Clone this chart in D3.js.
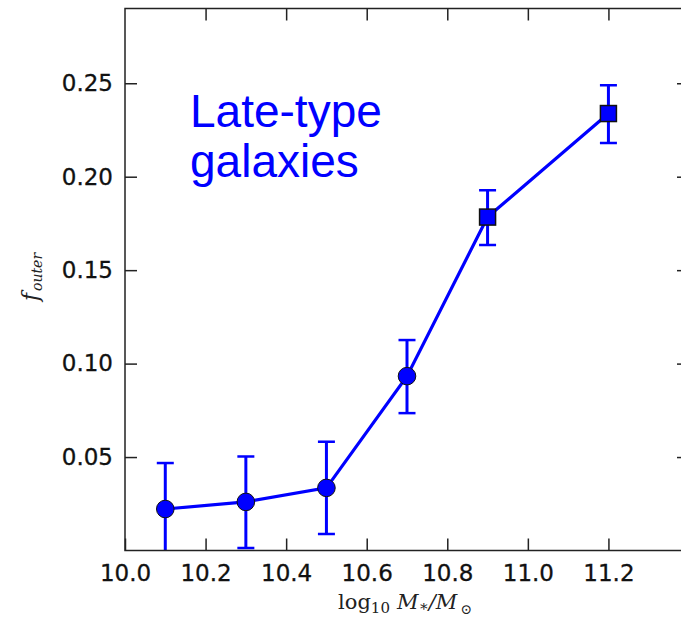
<html>
<head>
<script src="https://d3js.org/d3.v7.min.js"></script>
<style>
  body { margin: 0; background: #fff; }
  .tick text { font-family: "DejaVu Sans", sans-serif; font-size: 23px; fill: #111; stroke: #111; stroke-width: 0.3px; }
</style>
</head>
<body>
<div id="container"></div>
<script>
// data
var mass = [10.1, 10.3, 10.5, 10.7, 10.9, 11.2];
var fOuter = [0.0222, 0.0260, 0.0335, 0.0933, 0.1784, 0.2338];
var errTop = [0.0468, 0.0503, 0.0582, 0.1126, 0.1928, 0.2489];
var errBottom = [-0.0030, 0.0013, 0.0088, 0.0735, 0.1634, 0.2181];
var markerShape = ["circle", "circle", "circle", "circle", "square", "square"];
var xTicks = [10.0, 10.2, 10.4, 10.6, 10.8, 11.0, 11.2];
var yTicks = [0.05, 0.10, 0.15, 0.20, 0.25];

function drawChart() {
  var width = 681, height = 620;
  var pLeft = 125, pRight = 689, pTop = 8.5, pBottom = 550.5;

  var svg = d3.select("#container").append("svg")
    .attr("width", width)
    .attr("height", height);

  var x = d3.scaleLinear().domain([10.0, 11.4]).range([pLeft, pRight]);
  var y = d3.scaleLinear().domain([0, 0.29]).range([pBottom, pTop]);

  var data = mass.map(function(m, i) {
    return {m: m, f: fOuter[i], hi: errTop[i], lo: errBottom[i], shape: markerShape[i]};
  });

  svg.append("clipPath").attr("id", "plotclip")
    .append("rect")
    .attr("x", pLeft).attr("y", pTop)
    .attr("width", pRight - pLeft).attr("height", pBottom - pTop);

  var blue = "#0000ff";
  var g = svg.append("g").attr("clip-path", "url(#plotclip)");

  // error bars
  g.selectAll("line.err")
    .data(data).enter().append("line")
    .attr("class", "err")
    .attr("x1", function(d) { return x(d.m); })
    .attr("x2", function(d) { return x(d.m); })
    .attr("y1", function(d) { return y(d.lo); })
    .attr("y2", function(d) { return y(d.hi); })
    .attr("stroke", blue).attr("stroke-width", 3);

  var caps = [];
  data.forEach(function(d) { caps.push({m: d.m, v: d.hi}); caps.push({m: d.m, v: d.lo}); });
  g.selectAll("line.cap")
    .data(caps).enter().append("line")
    .attr("class", "cap")
    .attr("x1", function(d) { return x(d.m) - 8.5; })
    .attr("x2", function(d) { return x(d.m) + 8.5; })
    .attr("y1", function(d) { return y(d.v); })
    .attr("y2", function(d) { return y(d.v); })
    .attr("stroke", blue).attr("stroke-width", 2.5);

  // connecting line
  var line = d3.line()
    .x(function(d) { return x(d.m); })
    .y(function(d) { return y(d.f); });
  g.append("path")
    .datum(data)
    .attr("d", line)
    .attr("fill", "none")
    .attr("stroke", blue)
    .attr("stroke-width", 3.2);

  // markers
  g.selectAll("circle.pt")
    .data(data.filter(function(d) { return d.shape == "circle"; }))
    .enter().append("circle")
    .attr("class", "pt")
    .attr("cx", function(d) { return x(d.m); })
    .attr("cy", function(d) { return y(d.f); })
    .attr("r", 8.8)
    .attr("fill", blue)
    .attr("stroke", "#111")
    .attr("stroke-width", 1);

  g.selectAll("rect.pt")
    .data(data.filter(function(d) { return d.shape == "square"; }))
    .enter().append("rect")
    .attr("class", "pt")
    .attr("x", function(d) { return x(d.m) - 8; })
    .attr("y", function(d) { return y(d.f) - 8; })
    .attr("width", 16).attr("height", 16)
    .attr("fill", blue)
    .attr("stroke", "#111")
    .attr("stroke-width", 1.5);

  // axes with inward ticks
  var tickLen = 12;
  svg.append("g")
    .attr("transform", "translate(0," + pBottom + ")")
    .call(d3.axisBottom(x).tickValues(xTicks).tickFormat(d3.format(".1f"))
      .tickSizeInner(-tickLen).tickSizeOuter(0).tickPadding(14))
    .call(function(a) { a.select(".domain").remove(); });

  svg.append("g")
    .attr("transform", "translate(0," + pTop + ")")
    .call(d3.axisTop(x).tickValues(xTicks.slice(1)).tickFormat("")
      .tickSizeInner(-tickLen).tickSizeOuter(0))
    .call(function(a) { a.select(".domain").remove(); });

  svg.append("g")
    .attr("transform", "translate(" + pLeft + ",0)")
    .call(d3.axisLeft(y).tickValues(yTicks).tickFormat(d3.format(".2f"))
      .tickSizeInner(-tickLen).tickSizeOuter(0).tickPadding(12))
    .call(function(a) { a.select(".domain").remove(); });

  svg.append("g")
    .attr("transform", "translate(" + pRight + ",0)")
    .call(d3.axisRight(y).tickValues(yTicks).tickFormat("")
      .tickSizeInner(-tickLen).tickSizeOuter(0))
    .call(function(a) { a.select(".domain").remove(); });

  svg.selectAll(".tick line").attr("stroke", "#222").attr("stroke-width", 1.5);

  // frame
  svg.append("rect")
    .attr("x", pLeft).attr("y", pTop)
    .attr("width", pRight - pLeft).attr("height", pBottom - pTop)
    .attr("fill", "none")
    .attr("stroke", "#222")
    .attr("stroke-width", 1.5);

  // annotation
  var note = svg.append("text")
    .attr("font-family", "'Liberation Sans', Arial, sans-serif")
    .attr("font-size", 46)
    .attr("fill", blue);
  note.append("tspan").attr("x", 190).attr("y", 127).text("Late-type");
  note.append("tspan").attr("x", 190).attr("y", 177).text("galaxies");

  // axis labels
  var xl = svg.append("text")
    .attr("x", 405).attr("y", 609)
    .attr("text-anchor", "middle")
    .attr("font-family", "'DejaVu Serif', serif")
    .attr("font-size", 21)
    .attr("fill", "#222");
  xl.append("tspan").text("log");
  xl.append("tspan").attr("font-size", 15).attr("dy", 4).text("10");
  xl.append("tspan").attr("dy", -4).attr("dx", 7).attr("font-style", "italic").text("M");
  xl.append("tspan").attr("font-size", 15).attr("dy", 2).text("\u2217");
  xl.append("tspan").attr("dy", -2).attr("font-style", "italic").text("/M");
  xl.append("tspan").attr("font-size", 14).attr("dy", 5).attr("dx", 3).text("\u2299");

  var yl = svg.append("text")
    .attr("transform", "translate(38,277) rotate(-90)")
    .attr("text-anchor", "middle")
    .attr("font-family", "'DejaVu Serif', serif")
    .attr("font-style", "italic")
    .attr("fill", "#222");
  yl.append("tspan").attr("font-size", 22).text("f");
  yl.append("tspan").attr("font-size", 14).attr("dy", 4).attr("dx", 2).text("outer");
}

drawChart();
</script>
</body>
</html>
